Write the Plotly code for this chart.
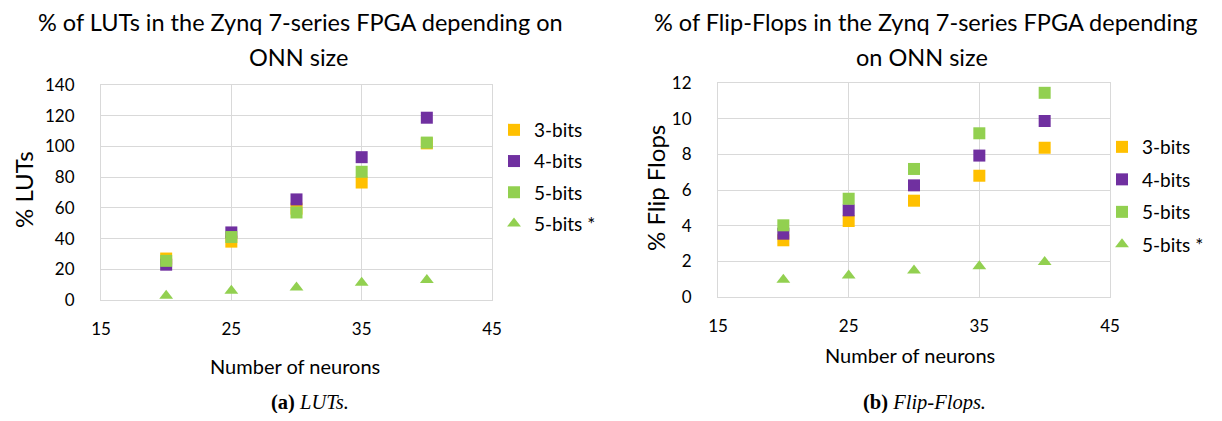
import plotly.graph_objects as go

neurons = [20, 25, 30, 35, 40]
series = ["3-bits", "4-bits", "5-bits", "5-bits *"]
luts = {
    "3-bits": [27, 38, 59.5, 76.5, 102],
    "4-bits": [23, 44, 65.5, 93, 118.7],
    "5-bits": [25.5, 41, 57, 83.5, 102.5],
    "5-bits *": [2.8, 6, 8.2, 11.3, 13],
}
ffs = {
    "3-bits": [3.18, 4.26, 5.4, 6.8, 8.37],
    "4-bits": [3.55, 4.86, 6.26, 7.93, 9.87],
    "5-bits": [4.02, 5.51, 7.18, 9.18, 11.45],
    "5-bits *": [0.97, 1.21, 1.48, 1.72, 1.96],
}
colors = {"3-bits": "#FFC000", "4-bits": "#7030A0", "5-bits": "#92D050", "5-bits *": "#92D050"}
symbols = {"3-bits": "square", "4-bits": "square", "5-bits": "square", "5-bits *": "triangle-up"}

# page body has an 8px margin; figure sized so the page does not overflow
OFF = 8
W, H = 1222 - 2 * OFF, 421 - 2 * OFF
def px(x): return (x - OFF) / W
def py(y): return 1 - (y - OFF) / H

FONT = "Lato"
TXT = "#000000"
GRID = "#D9D9D9"

fig = go.Figure()
for s in series:
    fig.add_trace(go.Scatter(x=neurons, y=luts[s], mode="markers", name=s,
                             marker=dict(color=colors[s], symbol=symbols[s], size=12),
                             xaxis="x", yaxis="y", legend="legend", legendgroup="a" + s))
for s in series:
    fig.add_trace(go.Scatter(x=neurons, y=ffs[s], mode="markers", name=s,
                             marker=dict(color=colors[s], symbol=symbols[s], size=12),
                             xaxis="x2", yaxis="y2", legend="legend2", legendgroup="b" + s))

axis_common = dict(showgrid=True, gridcolor=GRID, gridwidth=1, zeroline=False,
                   showline=True, linecolor=GRID, linewidth=1, mirror=True, automargin=False,
                   tickfont=dict(family=FONT, size=17, color=TXT), ticks="")

leg_common = dict(font=dict(family=FONT, size=19, color=TXT), bgcolor="rgba(0,0,0,0)",
                  itemwidth=30, xanchor="left", yanchor="top")

fig.update_layout(
    template="none",
    width=W, height=H, margin=dict(l=0, r=0, t=0, b=0, pad=0, autoexpand=False),
    paper_bgcolor="white", plot_bgcolor="white",
    xaxis=dict(domain=[px(101), px(492)], range=[15, 45], dtick=10, tick0=15,
               anchor="y", ticklabelstandoff=14, **axis_common),
    yaxis=dict(domain=[py(300), py(85)], range=[0, 140], dtick=20,
               anchor="x", ticklabelstandoff=22, **axis_common),
    xaxis2=dict(domain=[px(718), px(1110)], range=[15, 45], dtick=10, tick0=15,
                anchor="y2", ticklabelstandoff=14, **axis_common),
    yaxis2=dict(domain=[py(297), py(83)], range=[0, 12], dtick=2,
                anchor="x2", ticklabelstandoff=22, **axis_common),
    legend=dict(x=px(494), y=py(111), tracegroupgap=3.5, **leg_common),
    legend2=dict(x=px(1102), y=py(128), tracegroupgap=4.8, **leg_common),
    showlegend=True,
)

def ann(text, x, y, size, family=FONT, angle=0, xanchor="center"):
    fig.add_annotation(text=text, x=px(x), y=py(y), xref="paper", yref="paper",
                       showarrow=False, xanchor=xanchor, yanchor="middle", textangle=angle,
                       font=dict(family=family, size=size, color=TXT))

ann("% of LUTs in the Zynq 7-series FPGA depending on", 300, 22, 23.5)
ann("ONN size", 298, 57, 23.5)
ann("% of Flip-Flops in the Zynq 7-series FPGA depending", 925, 22, 23.5)
ann("on ONN size", 922, 57, 23.5)
ann("% LUTs", 23, 190, 24, angle=-90)
ann("% Flip Flops", 655, 188, 24, angle=-90)
ann("Number of neurons", 295, 366, 20)
ann("Number of neurons", 910, 355, 20)
ann("<b>(a)</b> <i>LUTs.</i>", 310, 402, 20.5, family="Liberation Serif")
ann("<b>(b)</b> <i>Flip-Flops.</i>", 924, 402, 20.5, family="Liberation Serif")

fig.write_html("out.html")
